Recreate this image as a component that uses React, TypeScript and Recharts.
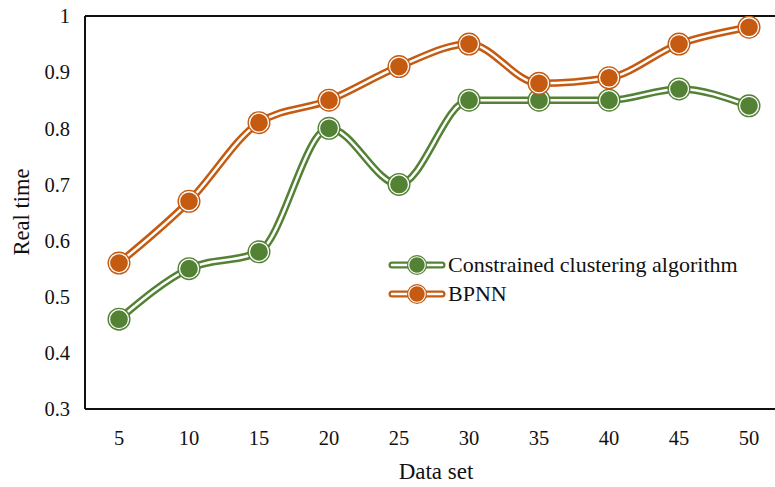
import React from 'react';
import { LineChart, Line, XAxis, YAxis, ReferenceLine } from 'recharts';

const categories = ['5', '10', '15', '20', '25', '30', '35', '40', '45', '50'];
const constrained = [0.46, 0.55, 0.58, 0.8, 0.7, 0.85, 0.85, 0.85, 0.87, 0.84];
const bpnn = [0.56, 0.67, 0.81, 0.85, 0.91, 0.95, 0.88, 0.89, 0.95, 0.98];
const yTicks = [0.3, 0.4, 0.5, 0.6, 0.7, 0.8, 0.9, 1];

const GREEN = '#548235';
const ORANGE = '#C55A11';
const FONT = '"Liberation Serif", "Times New Roman", serif';

const data = categories.map((c, i) => ({ name: c, constrained: constrained[i], bpnn: bpnn[i] }));

const makeDot = (color: string) => (props: any) => {
  const { cx, cy, index } = props;
  if (cx == null || cy == null) return <g key={index} />;
  return (
    <g key={index}>
      <circle cx={cx} cy={cy} r={11.5} fill={color} />
      <circle cx={cx} cy={cy} r={9.5} fill={color} stroke="#fff" strokeWidth={1.3} />
    </g>
  );
};

const LegendIcon = ({ color }: { color: string }) => (
  <svg width={58} height={22} style={{ display: 'block' }}>
    <line x1={4} y1={11} x2={54} y2={11} stroke={color} strokeWidth={7} strokeLinecap="round" />
    <line x1={4} y1={11} x2={54} y2={11} stroke="#fff" strokeWidth={2.5} strokeLinecap="round" />
    <circle cx={29} cy={11} r={10} fill={color} />
    <circle cx={29} cy={11} r={8.3} fill={color} stroke="#fff" strokeWidth={1.1} />
  </svg>
);

const legendItems = [
  { label: 'Constrained clustering algorithm', color: GREEN },
  { label: 'BPNN', color: ORANGE },
];

const yLabel = () => (
  <text x={21} y={212} transform="rotate(-90 21 212)" textAnchor="middle" dominantBaseline="central"
    fontFamily={FONT} fontSize={22.5} fill="#111">Real time</text>
);

const xLabel = () => (
  <text x={436} y={471} textAnchor="middle" dominantBaseline="central"
    fontFamily={FONT} fontSize={23} fill="#111">Data set</text>
);

export default function App() {
  return (
    <div style={{ position: 'absolute', left: 0, top: 0, width: 775, height: 487, overflow: 'hidden', background: '#fff' }}>
      <LineChart width={800} height={487} data={data} margin={{ top: 16, right: 15, left: 0, bottom: 0 }}>
        <XAxis
          dataKey="name"
          height={78}
          padding={{ left: 34, right: 36 }}
          axisLine={{ stroke: '#111', strokeWidth: 2 }}
          tickLine={false}
          tickSize={6}
          tickMargin={15}
          tick={{ fontFamily: FONT, fontSize: 20.5, fill: '#111' }}
          label={xLabel}
        />
        <YAxis
          width={85}
          domain={[0.3, 1]}
          ticks={yTicks}
          interval={0}
          allowDataOverflow
          tickFormatter={(v: number) => (v === 1 ? '1' : v.toFixed(1))}
          axisLine={{ stroke: '#111', strokeWidth: 2 }}
          tickLine={false}
          tickSize={6}
          tickMargin={9}
          tick={{ fontFamily: FONT, fontSize: 20.5, fill: '#111' }}
          label={yLabel}
        />
        <ReferenceLine y={1} stroke="#111" strokeWidth={2} />
        <Line dataKey="constrained" type="monotone" stroke={GREEN} strokeWidth={7.5} dot={false} activeDot={false} isAnimationActive={false} legendType="none" />
        <Line dataKey="constrained" type="monotone" stroke="#fff" strokeWidth={2.5} dot={makeDot(GREEN)} activeDot={false} isAnimationActive={false} legendType="none" />
        <Line dataKey="bpnn" type="monotone" stroke={ORANGE} strokeWidth={7.5} dot={false} activeDot={false} isAnimationActive={false} legendType="none" />
        <Line dataKey="bpnn" type="monotone" stroke="#fff" strokeWidth={2.5} dot={makeDot(ORANGE)} activeDot={false} isAnimationActive={false} legendType="none" />
      </LineChart>
      <div style={{ position: 'absolute', left: 388, top: 250, fontFamily: FONT, fontSize: 22, color: '#111' }}>
        {legendItems.map((it) => (
          <div key={it.label} style={{ display: 'flex', alignItems: 'center', height: 29, whiteSpace: 'nowrap' }}>
            <LegendIcon color={it.color} />
            <span style={{ marginLeft: 2, lineHeight: '24px' }}>{it.label}</span>
          </div>
        ))}
      </div>
    </div>
  );
}
